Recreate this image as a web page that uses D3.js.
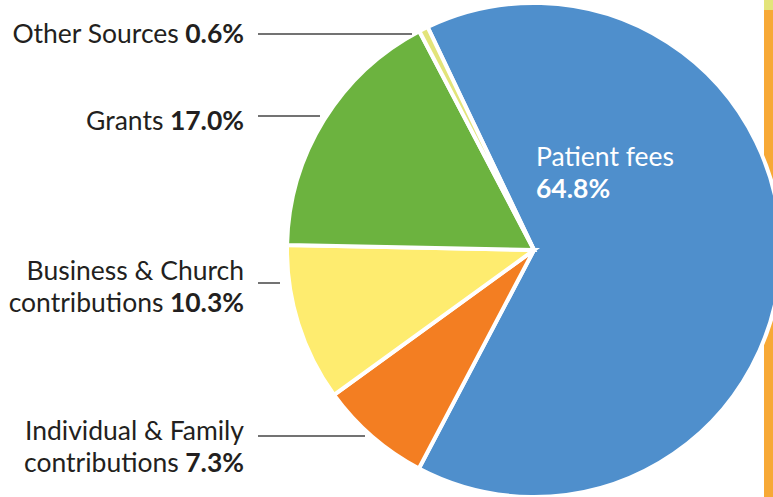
<!DOCTYPE html>
<html><head><meta charset="utf-8">
<script src="https://cdn.jsdelivr.net/npm/d3@7"></script>
<style>
html,body{margin:0;padding:0;background:#fff;}
svg{display:block;font-family:Lato,"Open Sans",sans-serif;}
</style></head>
<body>
<svg id="chart" width="773" height="497"></svg>
<script>
// ---- data ----
const categories = ["Patient fees", "Individual & Family contributions", "Business & Church contributions", "Grants", "Other Sources"];
const values = [64.8, 7.3, 10.3, 17.0, 0.6];
const labelLines = [
  ["Patient fees"],
  ["Individual & Family", "contributions"],
  ["Business & Church", "contributions"],
  ["Grants"],
  ["Other Sources"]
];
const valueLabels = ["64.8%", "7.3%", "10.3%", "17.0%", "0.6%"];
const colors = ["#4F8FCC", "#F37E22", "#FEEC6F", "#6CB33F", "#E3E47A"];

// ---- layout ----
const svg = d3.select("#chart");
const cx = 534, cy = 250, R = 247;
const fs = 26.5;

// side bars
svg.append("rect").attr("x", 764).attr("y", 10).attr("width", 9).attr("height", 487).attr("fill", "#F7A936");
svg.append("rect").attr("x", 764).attr("y", 0).attr("width", 9).attr("height", 10).attr("fill", "#E3E47A");

const start = -25.5 * Math.PI / 180;
const pie = d3.pie().sort(null).value(d => d).startAngle(start).endAngle(start + 2 * Math.PI);
const arcs = pie(values);
const arc = d3.arc().innerRadius(0).outerRadius(R);

const g = svg.append("g").attr("transform", `translate(${cx},${cy})`);
g.selectAll("path").data(arcs).join("path")
  .attr("d", arc)
  .attr("fill", (d, i) => colors[i])
  .attr("stroke", "#fff")
  .attr("stroke-width", 4)
  .attr("stroke-linejoin", "miter");

// Inside label for the largest slice
const inside = svg.append("text").attr("x", 536).attr("y", 166)
  .attr("fill", "#fff").attr("font-size", fs);
inside.append("tspan").attr("x", 536).text(labelLines[0][0]);
inside.append("tspan").attr("x", 536).attr("dy", 32).attr("font-weight", "bold").text(valueLabels[0]);

// Outside labels with leader lines
const outside = [
  {i: 4, y: 43, ly: 34, lx: 412},
  {i: 3, y: 130, ly: 116, lx: 320},
  {i: 2, y: 280, ly: 283, lx: 280},
  {i: 1, y: 440, ly: 436, lx: 365}
];
const textX = 244;
outside.forEach(o => {
  const lines = labelLines[o.i];
  const t = svg.append("text").attr("text-anchor", "end").attr("fill", "#231F20").attr("font-size", fs).attr("y", o.y);
  lines.forEach((ln, k) => {
    const ts = t.append("tspan").attr("x", textX).attr("dy", k === 0 ? 0 : 32);
    ts.append("tspan").text(ln);
    if (k === lines.length - 1) {
      ts.append("tspan").attr("font-weight", "bold").text(" " + valueLabels[o.i]);
    }
  });
  svg.append("line").attr("x1", 258).attr("x2", o.lx).attr("y1", o.ly).attr("y2", o.ly)
    .attr("stroke", "#444").attr("stroke-width", 1.5);
});
</script>
</body></html>
